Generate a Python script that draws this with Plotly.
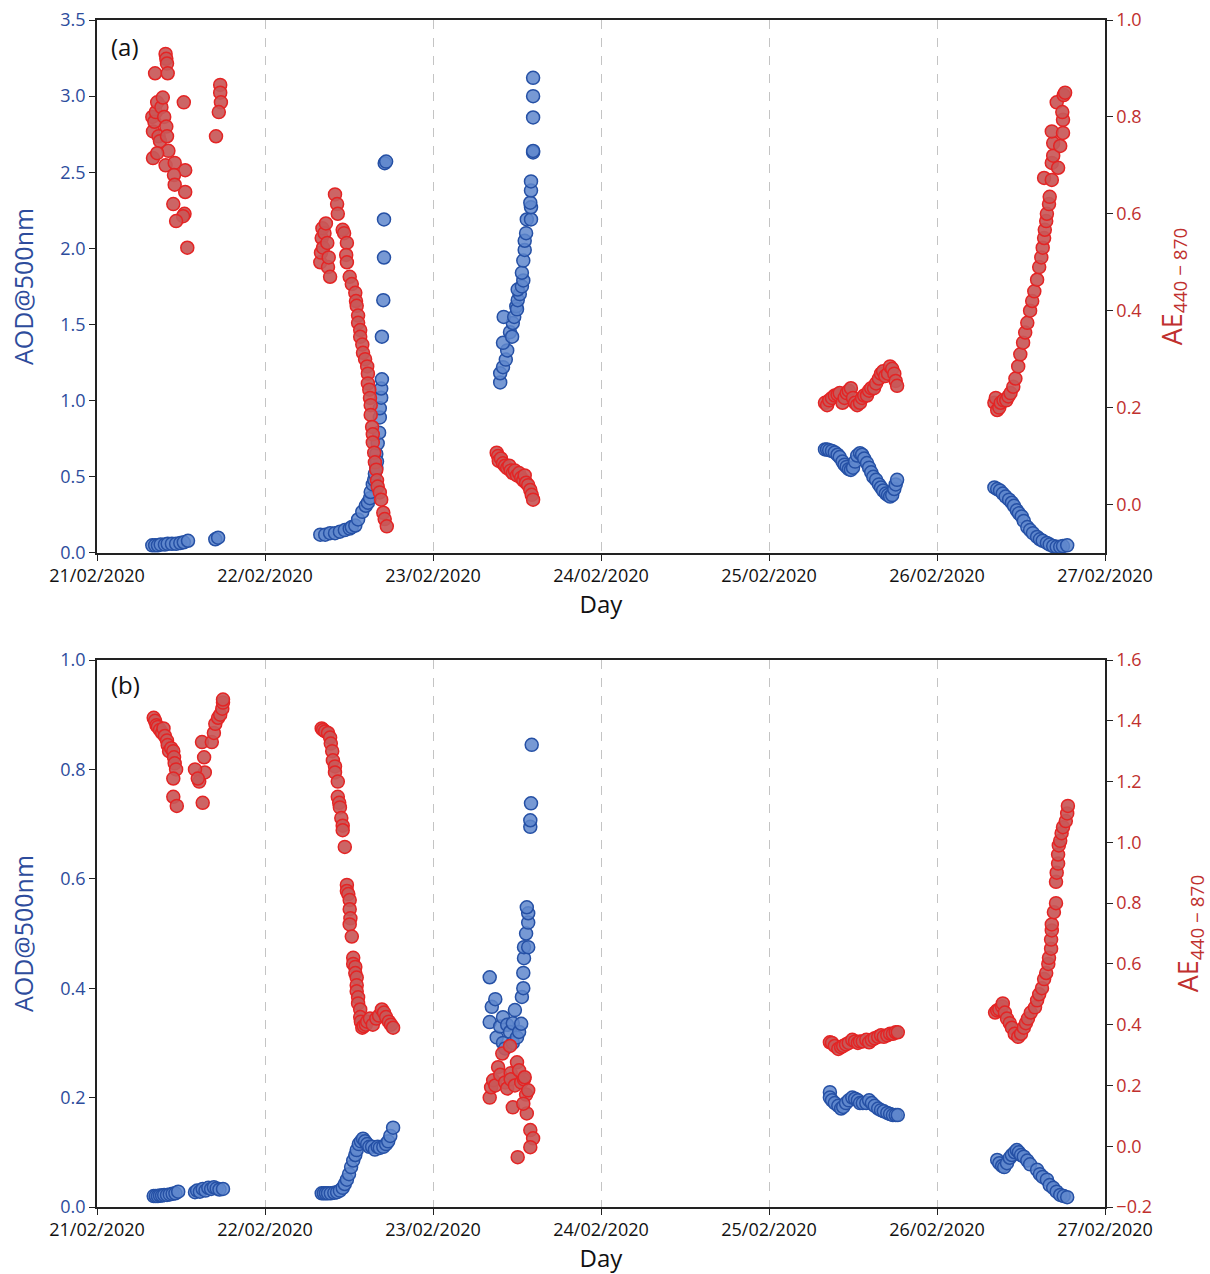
import pandas as pd
import plotly.graph_objects as go
from plotly.subplots import make_subplots

# ---------------- Panel (a) data: hours of day and values ----------------
a_aod_21_h = [7.9, 8.3, 8.7, 9.1, 9.7, 10.1, 10.7, 11.3, 11.9, 12.4, 13.0, 16.9, 17.3]
a_aod_21_v = [0.05, 0.05, 0.05, 0.055, 0.055, 0.06, 0.06, 0.06, 0.065, 0.07, 0.08, 0.09, 0.10]
a_ae_21_h = [8.3, 9.8, 9.9, 10.0, 10.1, 7.9, 8.0, 8.2, 8.4, 8.6, 8.8, 9.0, 9.2, 9.4, 9.6, 9.9, 10.2, 10.0,
             12.4, 8.0, 8.6, 9.8, 11.1, 12.6, 11.0, 11.1, 12.6, 10.9, 12.5, 12.3, 11.3, 12.9,
             17.6, 17.6, 17.7, 17.4, 17.0]
a_ae_21_v = [0.89, 0.93, 0.92, 0.91, 0.89, 0.80, 0.77, 0.79, 0.81, 0.83, 0.76, 0.75, 0.82, 0.84, 0.80, 0.78, 0.73, 0.76,
             0.83, 0.715, 0.725, 0.70, 0.705, 0.69, 0.68, 0.66, 0.645, 0.62, 0.60, 0.595, 0.585, 0.53,
             0.866, 0.85, 0.83, 0.81, 0.76]

a_aod_22_h = [7.9, 8.6, 9.3, 10.0, 10.7, 11.4, 12.1, 12.4, 12.9, 13.3, 13.9, 14.4, 14.7, 15.0, 15.1, 15.4, 15.6,
              15.7, 15.9, 15.9, 16.0, 16.1, 16.3, 16.4, 16.4, 16.6, 16.6, 16.7, 16.7, 16.9, 17.0, 17.0, 17.1, 17.3]
a_aod_22_v = [0.12, 0.12, 0.13, 0.13, 0.14, 0.15, 0.16, 0.17, 0.18, 0.22, 0.27, 0.31, 0.33, 0.36, 0.40, 0.45, 0.48,
              0.52, 0.56, 0.65, 0.60, 0.72, 0.79, 0.89, 0.95, 1.02, 1.08, 1.14, 1.42, 1.66, 1.94, 2.19, 2.56, 2.57]
a_ae_22_h = [7.9, 8.0, 8.1, 8.2, 8.3, 8.5, 8.7, 8.9, 9.0, 9.1, 9.3, 10.0, 10.3, 10.4,
             11.1, 11.3, 11.7, 11.6, 11.7, 12.1, 12.4, 12.9, 13.0, 13.1, 13.3, 13.3, 13.6, 13.6, 13.9, 14.0,
             14.3, 14.6, 14.7, 14.7, 14.9, 15.0, 15.1, 15.1, 15.3, 15.4, 15.4, 15.6, 15.7, 15.9, 16.0, 16.1,
             16.4, 16.6, 16.9, 17.1, 17.4]
a_ae_22_v = [0.50, 0.52, 0.55, 0.57, 0.53, 0.56, 0.58, 0.54, 0.49, 0.51, 0.47, 0.64, 0.62, 0.60,
             0.567, 0.56, 0.54, 0.515, 0.50, 0.47, 0.455, 0.437, 0.42, 0.41, 0.39, 0.375, 0.36, 0.346, 0.33, 0.313,
             0.30, 0.285, 0.27, 0.25, 0.237, 0.22, 0.205, 0.185, 0.16, 0.145, 0.128, 0.107, 0.087, 0.072, 0.05, 0.037,
             0.025, 0.01, -0.017, -0.03, -0.045]

a_aod_23_h = [9.6, 9.6, 10.0, 10.4, 10.6, 10.0, 11.0, 11.3, 11.4, 10.1, 11.6, 11.9, 12.0, 12.1, 12.4, 12.1, 12.7,
              12.9, 12.7, 12.9, 13.1, 13.1, 13.3, 13.4, 14.0, 14.0, 13.9, 14.0, 14.0, 14.3, 14.3, 14.3, 14.3, 14.3]
a_aod_23_v = [1.12, 1.18, 1.22, 1.27, 1.33, 1.38, 1.45, 1.42, 1.51, 1.55, 1.55, 1.62, 1.60, 1.66, 1.70, 1.73, 1.75,
              1.79, 1.84, 1.92, 1.99, 2.05, 2.10, 2.19, 2.19, 2.27, 2.30, 2.38, 2.44, 2.63, 2.64, 2.86, 3.00, 3.12]
a_ae_23_h = [9.1, 9.3, 9.4, 9.7, 10.0, 10.3, 10.6, 10.9, 11.1, 11.4, 11.7, 12.0, 12.3, 12.6, 12.9, 13.1,
             13.3, 13.6, 13.9, 14.1, 14.3]
a_ae_23_v = [0.107, 0.10, 0.09, 0.095, 0.085, 0.08, 0.075, 0.08, 0.07, 0.065, 0.07, 0.06, 0.065, 0.055, 0.05, 0.06,
             0.045, 0.04, 0.03, 0.02, 0.01]

a_aod_25_h = [8.0, 8.3, 8.6, 9.0, 9.4, 9.8, 10.1, 10.5, 10.8, 11.1, 11.4, 11.7, 12.0, 12.3, 12.6, 13.0, 13.3,
              13.6, 14.0, 14.3, 14.6, 14.9, 15.3, 15.7, 16.0, 16.3, 16.7, 17.0, 17.3, 17.6, 17.9, 18.1, 18.3]
a_aod_25_v = [0.68, 0.68, 0.675, 0.67, 0.66, 0.645, 0.63, 0.60, 0.58, 0.565, 0.55, 0.545, 0.56, 0.60, 0.64, 0.655,
              0.645, 0.62, 0.59, 0.56, 0.53, 0.50, 0.48, 0.45, 0.43, 0.41, 0.39, 0.38, 0.37, 0.38, 0.42, 0.45, 0.48]
a_ae_25_h = [8.0, 8.3, 8.6, 9.0, 9.4, 9.8, 10.1, 10.5, 10.8, 11.1, 11.4, 11.7, 12.0, 12.3, 12.6, 13.0, 13.3,
             13.6, 14.0, 14.3, 14.6, 15.0, 15.3, 15.7, 16.0, 16.3, 16.6, 17.0, 17.3, 17.6, 17.9, 18.1, 18.3]
a_ae_25_v = [0.21, 0.205, 0.215, 0.22, 0.225, 0.227, 0.23, 0.21, 0.22, 0.23, 0.235, 0.24, 0.22, 0.21, 0.205, 0.21,
             0.22, 0.225, 0.225, 0.235, 0.24, 0.24, 0.25, 0.26, 0.27, 0.275, 0.265, 0.27, 0.285, 0.28, 0.27, 0.255, 0.245]

a_aod_26_h = [8.2, 8.6, 9.0, 9.4, 9.8, 10.3, 10.7, 11.0, 11.4, 11.7, 12.1, 12.4, 12.9, 13.3, 13.7, 14.3, 14.7,
              15.1, 15.7, 16.1, 16.6, 17.1, 17.6, 18.0, 18.6]
a_aod_26_v = [0.43, 0.42, 0.41, 0.39, 0.37, 0.35, 0.33, 0.31, 0.28, 0.26, 0.24, 0.21, 0.17, 0.15, 0.13, 0.105, 0.09,
              0.08, 0.066, 0.055, 0.045, 0.04, 0.04, 0.045, 0.05]
a_ae_26_h = [8.2, 8.4, 8.6, 8.9, 9.1, 9.5, 9.9, 10.2, 10.5, 10.9, 11.2, 11.6, 11.9, 12.3, 12.6, 12.9, 13.3, 13.6,
             13.9, 14.3, 14.6, 14.9, 15.1, 15.3, 15.4, 15.6, 15.7, 16.0, 16.1, 15.3, 16.4, 16.4, 17.3, 16.6, 16.6,
             17.6, 16.4, 18.0, 18.0, 17.1, 17.9, 18.1, 18.3]
a_ae_26_v = [0.21, 0.22, 0.195, 0.20, 0.21, 0.215, 0.215, 0.223, 0.23, 0.243, 0.26, 0.285, 0.31, 0.334, 0.355, 0.375,
             0.40, 0.42, 0.44, 0.464, 0.49, 0.51, 0.53, 0.55, 0.567, 0.585, 0.60, 0.62, 0.635, 0.674, 0.67, 0.705,
             0.695, 0.72, 0.746, 0.74, 0.77, 0.767, 0.794, 0.83, 0.81, 0.845, 0.85]

# ---------------- Panel (b) data ----------------
b_aod_21_h = [8.1, 8.4, 8.7, 9.0, 9.3, 9.6, 10.0, 10.4, 10.8, 11.2, 11.6, 14.0, 14.3, 14.7, 15.1, 15.5, 15.9,
              16.3, 16.7, 17.1, 17.5, 18.0]
b_aod_21_v = [0.02, 0.02, 0.02, 0.021, 0.021, 0.022, 0.022, 0.023, 0.024, 0.025, 0.028, 0.027, 0.03, 0.028, 0.033,
              0.03, 0.035, 0.033, 0.036, 0.034, 0.032, 0.033]
b_ae_21_h = [8.1, 8.3, 8.5, 8.7, 9.0, 9.3, 9.5, 9.7, 10.0, 10.1, 10.3, 10.6, 10.9, 11.0, 11.1, 11.3, 10.9, 10.9,
             11.4, 15.1, 14.6, 15.4, 14.0, 14.4, 15.3, 15.0, 16.4, 16.7, 16.9, 17.3, 17.6, 17.9, 18.0, 18.0]
b_ae_21_v = [1.41, 1.40, 1.385, 1.38, 1.37, 1.36, 1.375, 1.35, 1.335, 1.32, 1.30, 1.31, 1.30, 1.28, 1.26, 1.24,
             1.21, 1.15, 1.12, 1.13, 1.20, 1.23, 1.24, 1.21, 1.28, 1.33, 1.33, 1.36, 1.39, 1.41, 1.42, 1.44, 1.46, 1.47]

b_aod_22_h = [8.1, 8.4, 8.7, 9.0, 9.4, 9.9, 10.3, 10.7, 11.1, 11.4, 11.7, 12.0, 12.3, 12.6, 12.9, 13.1, 13.4,
              13.7, 14.0, 14.3, 14.6, 14.9, 15.3, 15.7, 16.1, 16.4, 16.9, 17.3, 17.6, 17.9, 18.3]
b_aod_22_v = [0.025, 0.025, 0.025, 0.025, 0.025, 0.026, 0.027, 0.03, 0.035, 0.042, 0.05, 0.06, 0.073, 0.085, 0.095,
              0.104, 0.115, 0.12, 0.125, 0.12, 0.115, 0.11, 0.11, 0.105, 0.11, 0.108, 0.11, 0.115, 0.12, 0.13, 0.145]
b_ae_22_h = [8.1, 8.3, 8.6, 9.0, 9.3, 9.4, 9.6, 9.7, 10.0, 10.0, 10.4, 10.4, 10.6, 10.7, 10.9, 11.1, 11.1, 11.4,
             11.7, 11.7, 11.9, 12.1, 12.1, 12.2, 12.1, 12.4, 12.6, 12.6, 12.9, 12.9, 13.1, 13.1, 13.1, 13.3, 13.3,
             13.6, 13.6, 13.7, 13.9, 14.1, 14.4, 14.6, 15.0, 15.4, 15.9, 16.3, 16.7, 17.0, 17.3, 17.7, 18.0, 18.3]
b_ae_22_v = [1.375, 1.37, 1.365, 1.36, 1.345, 1.325, 1.30, 1.27, 1.25, 1.23, 1.20, 1.15, 1.13, 1.115, 1.08, 1.055,
             1.04, 0.985, 0.86, 0.84, 0.83, 0.81, 0.78, 0.75, 0.73, 0.69, 0.62, 0.60, 0.59, 0.57, 0.555, 0.53, 0.51,
             0.49, 0.47, 0.45, 0.425, 0.41, 0.39, 0.395, 0.40, 0.41, 0.42, 0.40, 0.42, 0.43, 0.45, 0.44, 0.425, 0.41,
             0.40, 0.39]

b_aod_23_h = [8.1, 8.4, 8.1, 8.9, 9.1, 9.6, 10.0, 10.0, 10.3, 10.6, 11.0, 11.4, 11.4, 11.7, 12.0, 12.3, 12.6,
              12.7, 12.9, 12.9, 13.0, 13.0, 13.6, 13.3, 13.6, 13.6, 13.4, 13.9, 13.9, 14.0, 14.1]
b_aod_23_v = [0.338, 0.366, 0.42, 0.38, 0.31, 0.33, 0.347, 0.30, 0.29, 0.333, 0.32, 0.336, 0.30, 0.36, 0.31, 0.32,
              0.335, 0.384, 0.40, 0.428, 0.455, 0.475, 0.475, 0.50, 0.52, 0.537, 0.548, 0.695, 0.707, 0.738, 0.845]
b_ae_23_h = [8.1, 8.3, 8.6, 8.9, 9.3, 9.6, 9.9, 10.3, 10.6, 11.0, 11.1, 11.1, 11.4, 11.7, 12.0, 12.3, 12.6, 13.0,
             13.1, 13.3, 13.6, 13.4, 13.9, 14.3, 13.9, 12.1, 12.9]
b_ae_23_v = [0.16, 0.194, 0.217, 0.20, 0.26, 0.235, 0.305, 0.21, 0.19, 0.33, 0.24, 0.22, 0.128, 0.20, 0.276, 0.25,
             0.21, 0.22, 0.227, 0.17, 0.184, 0.108, 0.053, 0.026, -0.003, -0.036, 0.14]

b_aod_25_h = [8.7, 8.7, 9.0, 9.4, 9.9, 10.3, 10.6, 11.0, 11.4, 11.9, 12.3, 12.7, 13.0, 13.4, 13.9, 14.3, 14.7,
              15.1, 15.6, 16.0, 16.4, 16.9, 17.3, 17.7, 18.1, 18.4]
b_aod_25_v = [0.21, 0.20, 0.195, 0.19, 0.185, 0.18, 0.183, 0.19, 0.195, 0.20, 0.198, 0.195, 0.19, 0.19, 0.19, 0.195,
              0.19, 0.185, 0.18, 0.177, 0.175, 0.172, 0.17, 0.168, 0.168, 0.168]
b_ae_25_h = [8.7, 9.0, 9.4, 9.9, 10.3, 10.6, 11.0, 11.4, 11.9, 12.3, 12.7, 13.0, 13.4, 13.9, 14.3, 14.7, 15.1,
             15.6, 16.0, 16.4, 16.9, 17.3, 17.7, 18.1, 18.4]
b_ae_25_v = [0.342, 0.34, 0.33, 0.32, 0.326, 0.33, 0.335, 0.34, 0.35, 0.345, 0.34, 0.345, 0.345, 0.35, 0.342, 0.35,
             0.355, 0.36, 0.365, 0.36, 0.365, 0.37, 0.37, 0.375, 0.375]

b_aod_26_h = [8.6, 8.9, 9.3, 9.6, 10.0, 10.4, 10.7, 11.1, 11.4, 11.7, 12.0, 12.4, 12.9, 13.3, 14.3, 14.7, 15.1,
              15.7, 16.1, 16.6, 17.1, 17.6, 18.1, 18.6]
b_aod_26_v = [0.086, 0.08, 0.075, 0.073, 0.08, 0.09, 0.095, 0.10, 0.104, 0.10, 0.095, 0.092, 0.085, 0.078, 0.068,
              0.06, 0.055, 0.05, 0.04, 0.035, 0.028, 0.022, 0.02, 0.018]
b_ae_26_h = [8.3, 8.6, 8.9, 9.3, 9.4, 9.7, 10.0, 10.4, 10.7, 11.1, 11.6, 12.0, 12.4, 12.7, 13.0, 13.4, 14.0, 14.3,
             14.6, 15.0, 15.3, 15.6, 15.9, 16.0, 16.3, 16.3, 16.4, 16.4, 16.7, 17.0, 17.0, 17.1, 17.3, 17.3, 17.4,
             17.6, 17.8, 18.0, 18.4, 18.6, 18.7]
b_ae_26_v = [0.44, 0.447, 0.45, 0.46, 0.47, 0.44, 0.42, 0.405, 0.39, 0.37, 0.36, 0.37, 0.39, 0.405, 0.42, 0.44,
             0.457, 0.48, 0.50, 0.52, 0.55, 0.57, 0.60, 0.62, 0.65, 0.68, 0.71, 0.73, 0.77, 0.80, 0.87, 0.90, 0.93,
             0.96, 0.99, 1.005, 1.03, 1.05, 1.07, 1.095, 1.12]

day_ticks = ["2020-02-21", "2020-02-22", "2020-02-23", "2020-02-24", "2020-02-25", "2020-02-26", "2020-02-27"]


def stamp(day, hours):
    return [pd.Timestamp(day) + pd.to_timedelta(h, unit="h") for h in hours]


def series(parts):
    xs, ys = [], []
    for day, h, v in parts:
        xs += stamp(day, h)
        ys += v
    return xs, ys


a_aod = series([("2020-02-21", a_aod_21_h, a_aod_21_v), ("2020-02-22", a_aod_22_h, a_aod_22_v),
                ("2020-02-23", a_aod_23_h, a_aod_23_v), ("2020-02-25", a_aod_25_h, a_aod_25_v),
                ("2020-02-26", a_aod_26_h, a_aod_26_v)])
a_ae = series([("2020-02-21", a_ae_21_h, a_ae_21_v), ("2020-02-22", a_ae_22_h, a_ae_22_v),
               ("2020-02-23", a_ae_23_h, a_ae_23_v), ("2020-02-25", a_ae_25_h, a_ae_25_v),
               ("2020-02-26", a_ae_26_h, a_ae_26_v)])
b_aod = series([("2020-02-21", b_aod_21_h, b_aod_21_v), ("2020-02-22", b_aod_22_h, b_aod_22_v),
                ("2020-02-23", b_aod_23_h, b_aod_23_v), ("2020-02-25", b_aod_25_h, b_aod_25_v),
                ("2020-02-26", b_aod_26_h, b_aod_26_v)])
b_ae = series([("2020-02-21", b_ae_21_h, b_ae_21_v), ("2020-02-22", b_ae_22_h, b_ae_22_v),
               ("2020-02-23", b_ae_23_h, b_ae_23_v), ("2020-02-25", b_ae_25_h, b_ae_25_v),
               ("2020-02-26", b_ae_26_h, b_ae_26_v)])

BLUE_FILL = "rgba(95,135,205,0.85)"
BLUE_EDGE = "#2550a5"
RED_FILL = "rgba(200,88,88,0.92)"
RED_EDGE = "#e42424"
BLUE_TXT = "#2d4c9c"
RED_TXT = "#c0302e"
FONT = "Open Sans"

fig = make_subplots(rows=2, cols=1, specs=[[{"secondary_y": True}], [{"secondary_y": True}]])

blue_marker = dict(size=13, color=BLUE_FILL, line=dict(color=BLUE_EDGE, width=1.5))
red_marker = dict(size=13, color=RED_FILL, line=dict(color=RED_EDGE, width=1.5))

fig.add_trace(go.Scatter(x=a_aod[0], y=a_aod[1], mode="markers", marker=blue_marker, showlegend=False),
              row=1, col=1, secondary_y=False)
fig.add_trace(go.Scatter(x=a_ae[0], y=a_ae[1], mode="markers", marker=red_marker, showlegend=False),
              row=1, col=1, secondary_y=True)
fig.add_trace(go.Scatter(x=b_aod[0], y=b_aod[1], mode="markers", marker=blue_marker, showlegend=False),
              row=2, col=1, secondary_y=False)
fig.add_trace(go.Scatter(x=b_ae[0], y=b_ae[1], mode="markers", marker=red_marker, showlegend=False),
              row=2, col=1, secondary_y=True)

xcommon = dict(range=[day_ticks[0], day_ticks[-1]], tickvals=day_ticks, tickformat="%d/%m/%Y",
               showgrid=True, gridcolor="#c4c4c4", griddash="dash", gridwidth=1,
               showline=True, linecolor="#222", linewidth=1.5, mirror=True,
               ticks="outside", ticklen=6, tickcolor="#222", automargin=False,
               tickfont=dict(family=FONT, size=18, color="#111"),
               title=dict(text="Day", font=dict(family=FONT, size=24, color="#111"), standoff=8))
fig.update_xaxes(**xcommon)

ycommon = dict(showgrid=False, zeroline=False, showline=True, linecolor="#222", linewidth=1.5,
               ticks="outside", ticklen=6, tickcolor="#222", automargin=False)

fig.update_yaxes(range=[0, 3.5], dtick=0.5, tickformat=".1f", row=1, col=1, secondary_y=False,
                 tickfont=dict(family=FONT, size=18, color=BLUE_TXT),
                 title=dict(text="AOD@500nm", font=dict(family=FONT, size=25, color=BLUE_TXT), standoff=20),
                 **ycommon)
fig.update_yaxes(range=[-0.1, 1.0], tickvals=[0.0, 0.2, 0.4, 0.6, 0.8, 1.0], tickformat=".1f", row=1, col=1,
                 secondary_y=True, tickfont=dict(family=FONT, size=18, color=RED_TXT),
                 title=dict(text="AE<sub>440 − 870</sub>", font=dict(family=FONT, size=27, color=RED_TXT),
                            standoff=22),
                 **ycommon)
fig.update_yaxes(range=[0, 1.0], dtick=0.2, tickformat=".1f", row=2, col=1, secondary_y=False,
                 tickfont=dict(family=FONT, size=18, color=BLUE_TXT),
                 title=dict(text="AOD@500nm", font=dict(family=FONT, size=25, color=BLUE_TXT), standoff=20),
                 **ycommon)
fig.update_yaxes(range=[-0.2, 1.6], dtick=0.2, tickformat=".1f", row=2, col=1, secondary_y=True,
                 tickfont=dict(family=FONT, size=18, color=RED_TXT),
                 title=dict(text="AE<sub>440 − 870</sub>", font=dict(family=FONT, size=27, color=RED_TXT),
                            standoff=36),
                 **ycommon)

fig.update_layout(
    width=1210, height=1274,
    margin=dict(l=97, r=105, t=20, b=67, autoexpand=False),
    plot_bgcolor="white", paper_bgcolor="white",
    xaxis=dict(domain=[0, 1]),
    xaxis2=dict(domain=[0, 1]),
    yaxis=dict(domain=[0.551, 1.0]),
    yaxis2=dict(domain=[0.551, 1.0]),
    yaxis3=dict(domain=[0, 0.4608]),
    yaxis4=dict(domain=[0, 0.4608]),
    annotations=[
        dict(text="(a)", x=0.012, y=0.993, xref="paper", yref="paper", xanchor="left", yanchor="top",
             showarrow=False, font=dict(family=FONT, size=24, color="#111")),
        dict(text="(b)", x=0.012, y=0.456, xref="paper", yref="paper", xanchor="left", yanchor="top",
             showarrow=False, font=dict(family=FONT, size=24, color="#111")),
    ],
)

fig.write_html("out.html", config={"displayModeBar": False},
               post_script="document.body.style.margin='0px';")
